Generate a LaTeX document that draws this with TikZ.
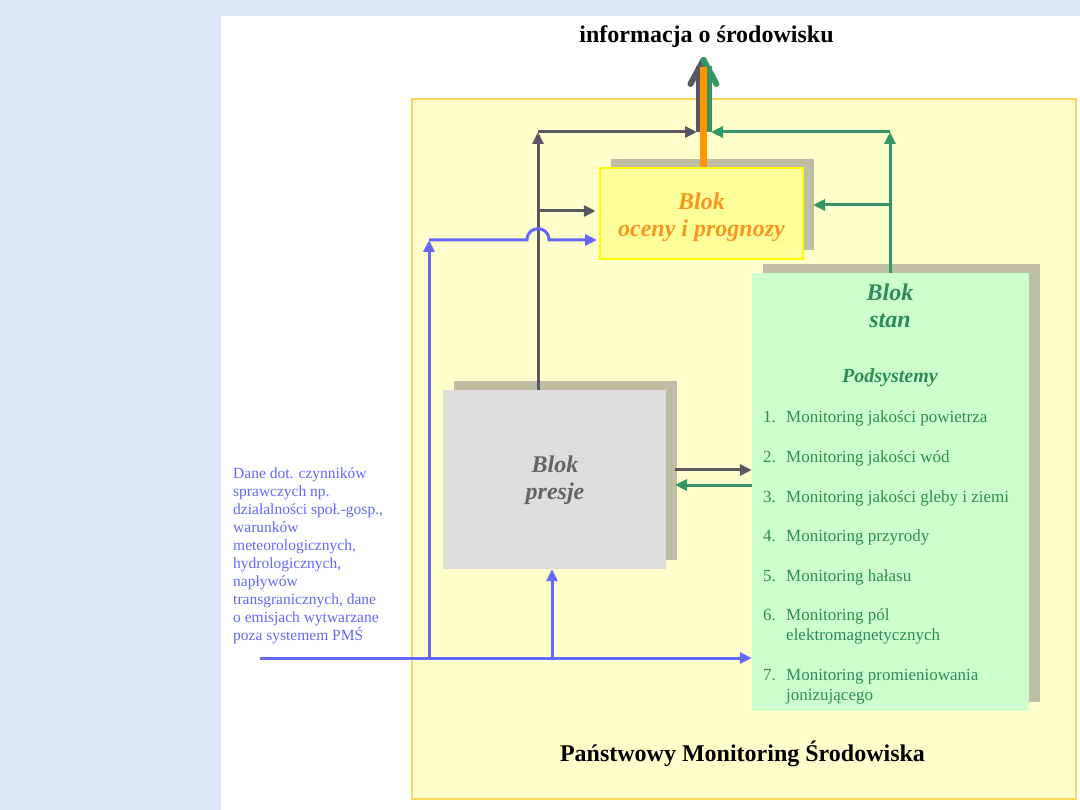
\documentclass[tikz,border=0pt]{standalone}
\usepackage{fontspec}
\setmainfont{Liberation Serif}
\usetikzlibrary{arrows.meta,shadows}
\definecolor{bgblue}{RGB}{221,232,247}
\definecolor{pmsfill}{RGB}{255,255,204}
\definecolor{pmsline}{RGB}{255,214,90}
\definecolor{ocenfill}{RGB}{255,255,153}
\definecolor{ocenline}{RGB}{255,255,0}
\definecolor{ocentext}{RGB}{248,150,30}
\definecolor{orangebar}{RGB}{255,150,0}
\definecolor{lgray}{RGB}{88,88,98}
\definecolor{lgreen}{RGB}{51,150,100}
\definecolor{stanfill}{RGB}{204,255,204}
\definecolor{stantext}{RGB}{46,140,90}
\definecolor{presfill}{RGB}{221,221,221}
\definecolor{prestext}{RGB}{100,100,100}
\definecolor{shadowc}{RGB}{190,190,165}
\definecolor{lblue}{RGB}{102,102,255}
\begin{document}
\begin{tikzpicture}[x=1pt,y=-1pt,
  tri/.style={-{Triangle[length=12pt,width=11pt]}},
  grayln/.style={draw=lgray,line width=3pt},
  greenln/.style={draw=lgreen,line width=3pt},
  blueln/.style={draw=lblue,line width=3pt},
  blokbox/.style={inner sep=0pt,general shadow={fill=shadowc,shadow xshift=11pt,shadow yshift=9pt}},
  title/.style={font=\fontsize{24}{28}\selectfont\bfseries,inner sep=0pt,anchor=base},
  bloktxt/.style={font=\fontsize{24}{28}\selectfont\bfseries\itshape,inner sep=0pt,anchor=base},
  item/.style={font=\fontsize{17}{20}\selectfont,text=stantext,inner sep=0pt,anchor=base west}]
\useasboundingbox (0,0) rectangle (1080,810);
\fill[bgblue] (0,0) rectangle (1080,810);
\fill[white] (221,16) rectangle (1080,810);
% outer system box
\node[fill=pmsfill,draw=pmsline,line width=2pt,minimum width=664pt,minimum height=700pt,inner sep=0pt] (pms) at (744,449) {};
\node[title] (pmstitle) at (742.5,761) {Państwowy Monitoring Środowiska};
\node[title] (info) at (706.5,43) {informacja o środowisku};
% blocks
\node[blokbox,fill=ocenfill,draw=ocenline,line width=2.5pt,minimum width=203pt,minimum height=91pt] (ocen) at (701.5,213.5) {};
\node[bloktxt,text=ocentext] (ocen1) at (701.5,210) {Blok};
\node[bloktxt,text=ocentext] (ocen2) at (701.5,237) {oceny i prognozy};
\node[blokbox,fill=presfill,minimum width=223pt,minimum height=179pt] (presje) at (554.5,479.5) {};
\node[bloktxt,text=prestext] (pres1) at (555,473) {Blok};
\node[bloktxt,text=prestext] (pres2) at (555,500) {presje};
\node[blokbox,fill=stanfill,minimum width=277pt,minimum height=438pt] (stan) at (890.5,492) {};
\node[bloktxt,text=stantext] (stan1) at (890,301) {Blok};
\node[bloktxt,text=stantext] (stan2) at (890,328) {stan};
\node[bloktxt,text=stantext,font=\fontsize{20}{24}\selectfont\bfseries\itshape] (podsys) at (890,383) {Podsystemy};
\node[item] (n1) at (763,423) {1.};
\node[item] (t1) at (786,423) {Monitoring jakości powietrza};
\node[item] (n2) at (763,462.5) {2.};
\node[item] (t2) at (786,462.5) {Monitoring jakości wód};
\node[item] (n3) at (763,502) {3.};
\node[item] (t3) at (786,502) {Monitoring jakości gleby i ziemi};
\node[item] (n4) at (763,541.5) {4.};
\node[item] (t4) at (786,541.5) {Monitoring przyrody};
\node[item] (n5) at (763,581) {5.};
\node[item] (t5) at (786,581) {Monitoring hałasu};
\node[item] (n6) at (763,620.5) {6.};
\node[item] (t6) at (786,620.5) {Monitoring pól};
\node[item] (t6b) at (786,640.5) {elektromagnetycznych};
\node[item] (n7) at (763,680) {7.};
\node[item] (t7) at (786,680) {Monitoring promieniowania};
\node[item] (t7b) at (786,700) {jonizującego};
% input text
\node[font=\fontsize{15.5}{18}\selectfont,text=lblue,align=left,anchor=north west,inner sep=0pt] (dane) at (233,468)
 {Dane dot. czynników\\sprawczych np.\\działalności społ.-gosp.,\\warunków\\meteorologicznych,\\hydrologicznych,\\napływów\\transgranicznych, dane\\o emisjach wytwarzane\\poza systemem PMŚ};
% coordinates
\coordinate (gtop) at (538,132);
\coordinate (gmid) at (538,211);
\coordinate (gend) at (697,132);
\coordinate (rtop) at (890,132);
\coordinate (rmid) at (890,205);
\coordinate (rend) at (711,132);
\coordinate (ocsh) at (813,205);
\coordinate (bstart) at (260,658);
\coordinate (bj1) at (429,658);
\coordinate (bj2) at (552,658);
\coordinate (btop) at (429,240);
\coordinate (hop1) at (527,240);
\coordinate (hop2) at (549,240);
\coordinate (btip) at (597,240);
\coordinate (atip) at (703.5,60);
\coordinate (obar) at (703.5,67);
% gray connectors
\draw[grayln,tri] (presje.north -| gtop) -- (gtop);
\draw[grayln,tri] (gtop) -- (gend);
\draw[grayln,tri] (gmid) -- ([xshift=-3pt]ocen.west |- gmid);
\draw[grayln,tri] (675,470) -- (stan.west |- 0,470);
% green connectors
\draw[greenln,tri] (stan.north -| rtop) -- (rtop);
\draw[greenln,tri] (rtop) -- (rend);
\draw[greenln,tri] (rmid) -- (ocsh);
\draw[greenln,tri] (stan.west |- 0,485) -- (675,485);
% big output arrow
\draw[lgray,line width=5pt] (698.5,132) -- (698.5,66);
\draw[lgreen,line width=5pt] (709.5,132) -- (709.5,66);
\draw[lgray,line width=6pt,line cap=round,line join=round] (690.5,84) -- (atip) -- (703.5,70);
\draw[lgreen,line width=6pt,line cap=round] (atip) -- (716.5,84);
\draw[orangebar,line width=7pt] (ocen.north -| obar) -- (obar);
% blue connectors
\draw[blueln,tri] (bstart) -- (stan.west |- bstart);
\draw[blueln,tri] (bj1) -- (btop);
\draw[blueln,tri] (btop) -- (hop1) .. controls (527,225) and (549,225) .. (hop2) -- (btip);
\draw[blueln,tri] (bj2) -- (presje.south -| bj2);
\end{tikzpicture}
\end{document}
